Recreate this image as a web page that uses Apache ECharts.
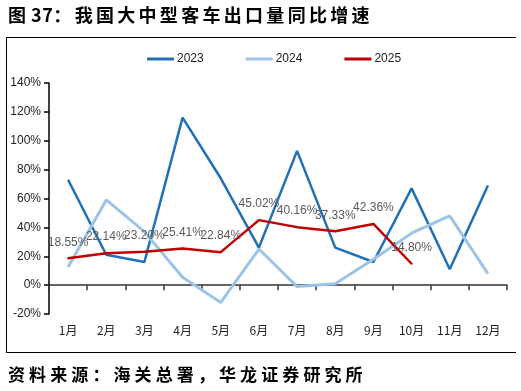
<!DOCTYPE html>
<html>
<head>
<meta charset="utf-8">
<script src="https://cdn.jsdelivr.net/npm/echarts@6/dist/echarts.min.js"></script>
<style>
  html, body { margin: 0; padding: 0; background: #fff; }
  #wrap { position: relative; width: 521px; height: 391px; overflow: hidden; }
  .cap { position: absolute; left: 8px; font-family: "Noto Sans CJK SC", sans-serif; font-weight: bold; color: #000; white-space: nowrap; }
  #title { top: 2px; font-size: 18px; letter-spacing: 3.3px; line-height: 24px; }
  #title .pre { letter-spacing: 0.5px; }
  #source { top: 362px; font-size: 17px; letter-spacing: 4.1px; line-height: 24px; }
  #box { position: absolute; left: 6px; top: 37px; width: 509px; height: 314px; border-top: 1.5px solid #000; border-bottom: 1.5px solid #000; border-left: 1px solid #000; }
  #chart { position: absolute; left: 0; top: 0; width: 521px; height: 391px; }
</style>
</head>
<body>
<div id="wrap">
  <div id="box"></div>
  <div id="chart"></div>
  <div id="title" class="cap"><span class="pre">图 37</span>：我国大中型客车出口量同比增速</div>
  <div id="source" class="cap">资料来源：海关总署，华龙证券研究所</div>
</div>
<script>
// 月份
const months = ['1月', '2月', '3月', '4月', '5月', '6月', '7月', '8月', '9月', '10月', '11月', '12月'];
// 同比增速 (%)
const y2023 = [73, 21, 16, 116, 74, 26, 93, 26, 16, 67, 11, 69];
const y2024 = [12.5, 59, 37, 5.5, -12, 25, -1, 1, 18, 36, 48, 8];
const y2025 = [18.55, 22.14, 23.20, 25.41, 22.84, 45.02, 40.16, 37.33, 42.36, 14.80];

const chart = echarts.init(document.getElementById('chart'), null, { renderer: 'canvas' });

const axisFont = { fontFamily: 'Liberation Sans, Arial, sans-serif', fontSize: 12, color: '#222' };

const option = {
    backgroundColor: 'transparent',
    animation: false,
    legend: {
        top: 53,
        left: 147,
        padding: 0,
        itemWidth: 27,
        itemHeight: 3,
        itemGap: 42,
        icon: 'rect',
        textStyle: { fontFamily: 'Liberation Sans, Arial, sans-serif', fontSize: 12, color: '#222', padding: [0, 0, 0, -2] },
        data: ['2023', '2024', '2025']
    },
    grid: { left: 49, right: 14, top: 83, bottom: 77 },
    xAxis: {
        type: 'category',
        data: months,
        boundaryGap: true,
        axisLine: { onZero: true, lineStyle: { color: '#333', width: 1.5 } },
        axisTick: { show: true, length: 5, lineStyle: { color: '#333', width: 1.5 } },
        axisLabel: {
            margin: 10,
            fontFamily: 'Noto Sans CJK SC, sans-serif',
            fontSize: 12,
            color: '#222'
        }
    },
    yAxis: {
        type: 'value',
        min: -20,
        max: 140,
        interval: 20,
        axisLine: { show: true, lineStyle: { color: '#000', width: 1.5 } },
        axisTick: { show: true, length: 5, lineStyle: { color: '#000', width: 1.5 } },
        splitLine: { show: false },
        axisLabel: Object.assign({ formatter: '{value}%', margin: 8 }, axisFont)
    },
    series: [
        {
            name: '2023',
            type: 'line',
            data: y2023,
            showSymbol: false,
            color: '#1f70b8',
            lineStyle: { width: 2.5, color: '#1f70b8' }
        },
        {
            name: '2024',
            type: 'line',
            data: y2024,
            showSymbol: false,
            color: '#9dc3e6',
            lineStyle: { width: 3, color: '#9dc3e6' }
        },
        {
            name: '2025',
            type: 'line',
            data: y2025,
            showSymbol: true,
            symbol: 'circle',
            symbolSize: 2,
            color: '#c00000',
            itemStyle: { color: '#c00000' },
            lineStyle: { width: 2.5, color: '#c00000' },
            label: {
                show: true,
                position: 'top',
                distance: 9,
                fontFamily: 'Liberation Sans, Arial, sans-serif',
                fontSize: 12,
                color: '#595959',
                formatter: p => p.value.toFixed(2) + '%'
            }
        }
    ]
};

chart.setOption(option);
</script>
</body>
</html>
